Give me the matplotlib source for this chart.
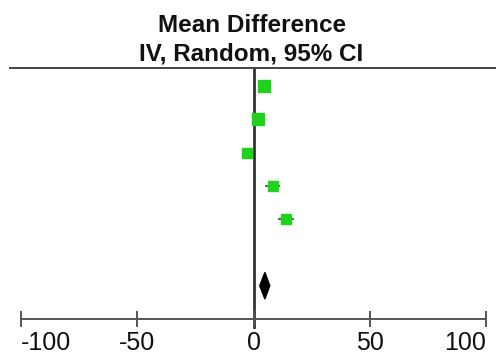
import matplotlib.pyplot as plt
import numpy as np

plt.rcParams['font.family'] = ['Liberation Sans', 'DejaVu Sans']

# study estimates (mean difference with 95% CI)
mean_diff = [4.7, 2.0, -2.6, 8.3, 14.0]
ci_low = [3.6, 0.6, -4.0, 5.1, 10.6]
ci_high = [5.8, 3.4, -1.2, 11.5, 17.5]
weights = [22, 26, 17, 17, 18]

# pooled estimate
pooled_mean = 4.9
pooled_low = 2.7
pooled_high = 7.0

xticks = [-100, -50, 0, 50, 100]

W, H = 496, 358
fig = plt.figure(figsize=(W / 100, H / 100), dpi=100)
ax = fig.add_axes([21 / W, 1 - 319 / H, (486 - 21) / W, (319 - 68) / H])

rows = np.arange(1, len(mean_diff) + 1)
pooled_row = 7

# whiskers
ax.hlines(rows, ci_low, ci_high, color='#444444', lw=1.2, zorder=2)
# squares sized by weight
for r, m, w in zip(rows, mean_diff, weights):
    ax.plot(m, r, marker='s', ms=1.72 * np.sqrt(w), color='#1ed21e',
            mec='#1ed21e', zorder=3)

# pooled diamond
dh = 0.4
ax.fill([pooled_low, pooled_mean, pooled_high, pooled_mean],
        [pooled_row, pooled_row - dh, pooled_row, pooled_row + dh],
        color='black', zorder=3)

# line of no effect
ax.plot([0, 0], [0.46, 8.24], color='#333333', lw=2, clip_on=False, zorder=1)

# top rule
ax.plot([-0.024, 1.03], [1, 1], transform=ax.transAxes, color='#444444',
        lw=1.4, clip_on=False)

ax.set_xlim(-100, 100)
ax.set_ylim(8.0, 0.46)
for s in ['top', 'left', 'right']:
    ax.spines[s].set_visible(False)
ax.spines['bottom'].set_color('#555555')
ax.spines['bottom'].set_linewidth(1.4)
ax.set_yticks([])
ax.set_xticks(xticks)
ax.set_xticklabels([str(t) for t in xticks])
ax.tick_params(axis='x', direction='inout', length=12, width=1.4,
               color='#555555', labelsize=18, pad=3, labelcolor='#111111')
labels = ax.get_xticklabels()
labels[0].set_ha('left')
labels[-1].set_ha('right')

fig.text(252 / W, 1 - 32 / H, 'Mean Difference', ha='center', va='baseline',
         fontsize=17.5, fontweight='bold', color='#111111')
fig.text(251 / W, 1 - 61 / H, 'IV, Random, 95% CI', ha='center', va='baseline',
         fontsize=17.5, fontweight='bold', color='#111111')

fig.savefig('out.png', dpi=100)
